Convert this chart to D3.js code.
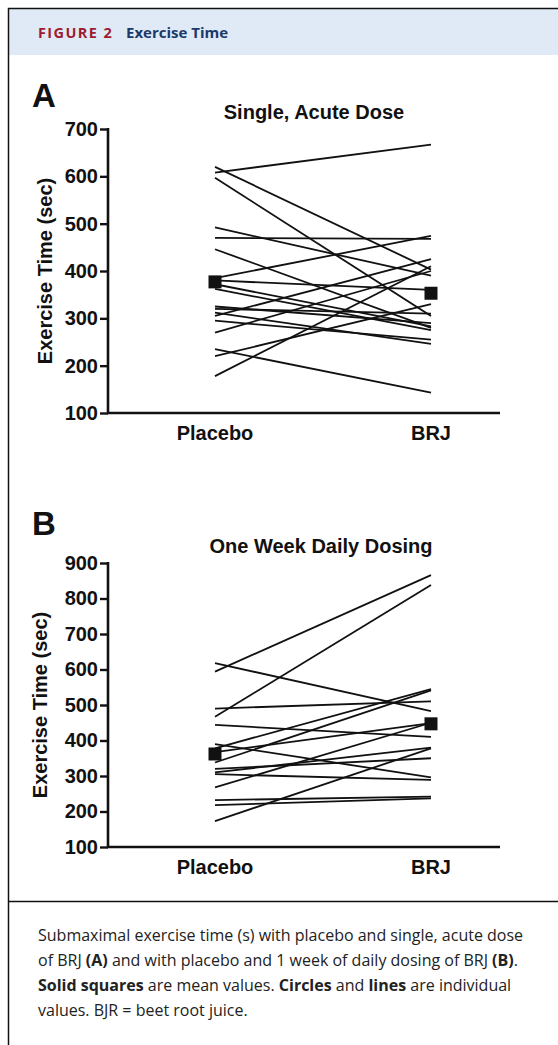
<!DOCTYPE html>
<html>
<head>
<meta charset="utf-8">
<script src="https://cdn.jsdelivr.net/npm/d3@7"></script>
<style>
  body { margin: 0; background: #fff; }
  svg { display: block; }
  .tick text { font-family: "Liberation Sans", Arial, sans-serif; font-weight: bold; font-size: 20px; fill: #111; }
</style>
</head>
<body>
<div id="chart"></div>
<script>
//
// Data
//
var groups = ["Placebo", "BRJ"];

// panel A: single acute dose, one entry per subject
var acutePlacebo = [608, 620, 597, 492, 470, 446, 385, 380, 372, 362, 325, 320, 312, 305, 295, 270, 235, 220, 178];
var acuteBRJ     = [667, 403, 305, 390, 468, 280, 474, 360, 283, 275, 290, 310, 246, 425, 255, 400, 143, 330, 410];
var acuteMean    = [377, 353];
var acuteTicks   = [100, 200, 300, 400, 500, 600, 700];

// panel B: one week daily dosing
var weekPlacebo = [594, 618, 467, 490, 444, 390, 378, 367, 338, 320, 310, 305, 268, 232, 218, 173];
var weekBRJ     = [866, 483, 838, 510, 410, 296, 545, 449, 541, 350, 380, 289, 450, 242, 237, 378];
var weekMean    = [362, 447];
var weekTicks   = [100, 200, 300, 400, 500, 600, 700, 800, 900];

var W = 558, H = 1045;
var font = "'Liberation Sans', Arial, sans-serif";

var svg = d3.select("#chart").append("svg")
    .attr("width", W)
    .attr("height", H);

//
// Frame + header
//
svg.append("rect")
    .attr("x", 9).attr("y", 9)
    .attr("width", W).attr("height", 46)
    .attr("fill", "#dfeaf6");

svg.append("path")
    .attr("d", "M8.5," + H + " V8.5 H" + W)
    .attr("fill", "none")
    .attr("stroke", "#111")
    .attr("stroke-width", 1.5);

svg.append("line")
    .attr("x1", 8).attr("x2", W)
    .attr("y1", 901.5).attr("y2", 901.5)
    .attr("stroke", "#111")
    .attr("stroke-width", 1.5);

var head = svg.append("text")
    .attr("x", 38).attr("y", 38)
    .attr("font-family", "'Open Sans', 'Noto Sans', sans-serif")
    .attr("font-weight", "bold");
head.append("tspan")
    .attr("fill", "#9c1c32")
    .attr("font-size", 14.5)
    .attr("letter-spacing", 1.4)
    .text("FIGURE 2");
head.append("tspan")
    .attr("x", 126)
    .attr("fill", "#1b3a6a")
    .attr("font-size", 15)
    .text("Exercise Time");

//
// Panels
//
function panel(cfg) {
    var y = d3.scaleLinear().domain([100, cfg.max]).range([cfg.bottom, cfg.top]);
    var x = d3.scalePoint().domain(groups).range([215, 431]);
    var g = svg.append("g");

    g.append("text")
        .attr("x", 32).attr("y", cfg.letterY)
        .attr("font-family", font).attr("font-weight", "bold")
        .attr("font-size", 33)
        .attr("fill", "#111")
        .text(cfg.letter);

    g.append("text")
        .attr("x", cfg.titleX).attr("y", cfg.titleY)
        .attr("text-anchor", "middle")
        .attr("font-family", font).attr("font-weight", "bold")
        .attr("font-size", 20)
        .attr("fill", "#111")
        .text(cfg.title);

    g.append("text")
        .attr("transform", "translate(" + cfg.labelX + "," + ((cfg.top + cfg.bottom) / 2) + ") rotate(-90)")
        .attr("text-anchor", "middle")
        .attr("dy", "0.35em")
        .attr("font-family", font).attr("font-weight", "bold")
        .attr("font-size", 20)
        .attr("fill", "#111")
        .text("Exercise Time (sec)");

    var yAxis = g.append("g")
        .attr("transform", "translate(108,0)")
        .call(d3.axisLeft(y).tickValues(cfg.ticks).tickSize(8).tickPadding(2).tickFormat(d3.format("d")));
    yAxis.select(".domain").attr("stroke", "#111").attr("stroke-width", 2.6)
        .attr("d", "M0," + (cfg.top - 1) + "V" + cfg.bottom);
    yAxis.selectAll(".tick line").attr("stroke", "#111").attr("stroke-width", 2.4);

    g.append("line")
        .attr("x1", 107).attr("x2", 500)
        .attr("y1", cfg.bottom).attr("y2", cfg.bottom)
        .attr("stroke", "#111").attr("stroke-width", 2.6);

    g.selectAll(".cat")
        .data(groups)
        .enter().append("text")
        .attr("x", function(d) { return x(d); })
        .attr("y", cfg.bottom + 27)
        .attr("text-anchor", "middle")
        .attr("font-family", font).attr("font-weight", "bold")
        .attr("font-size", 20)
        .attr("fill", "#111")
        .text(function(d) { return d; });

    var pairs = cfg.pre.map(function(v, i) { return [v, cfg.post[i]]; });

    g.selectAll(".subj")
        .data(pairs)
        .enter().append("line")
        .attr("x1", x("Placebo")).attr("x2", x("BRJ"))
        .attr("y1", function(d) { return y(d[0]); })
        .attr("y2", function(d) { return y(d[1]); })
        .attr("stroke", "#111")
        .attr("stroke-width", 1.8);

    var s = 13;
    g.selectAll(".mean")
        .data(cfg.mean)
        .enter().append("rect")
        .attr("x", function(d, i) { return x(groups[i]) - s / 2; })
        .attr("y", function(d) { return y(d) - s / 2; })
        .attr("width", s).attr("height", s)
        .attr("fill", "#111");
}

panel({
    letter: "A", letterY: 107,
    title: "Single, Acute Dose", titleX: 314, titleY: 119,
    labelX: 45,
    top: 129, bottom: 413, max: 700, ticks: acuteTicks,
    pre: acutePlacebo, post: acuteBRJ, mean: acuteMean
});

panel({
    letter: "B", letterY: 535,
    title: "One Week Daily Dosing", titleX: 321, titleY: 553,
    labelX: 40,
    top: 563, bottom: 847, max: 900, ticks: weekTicks,
    pre: weekPlacebo, post: weekBRJ, mean: weekMean
});

//
// Caption
//
var capLines = [
    [["Submaximal exercise time (s) with placebo and single, acute dose", false]],
    [["of BRJ ", false], ["(A)", true], [" and with placebo and 1 week of daily dosing of BRJ ", false], ["(B)", true], [".", false]],
    [["Solid squares", true], [" are mean values. ", false], ["Circles", true], [" and ", false], ["lines", true], [" are individual", false]],
    [["values. BJR = beet root juice.", false]]
];

capLines.forEach(function(parts, i) {
    var t = svg.append("text")
        .attr("x", 38).attr("y", 941 + i * 25)
        .attr("font-family", "'Open Sans', 'Noto Sans', sans-serif")
        .attr("font-size", 16)
        .attr("fill", "#222");
    parts.forEach(function(p) {
        t.append("tspan")
            .attr("font-weight", p[1] ? "bold" : "normal")
            .text(p[0]);
    });
});
</script>
</body>
</html>
